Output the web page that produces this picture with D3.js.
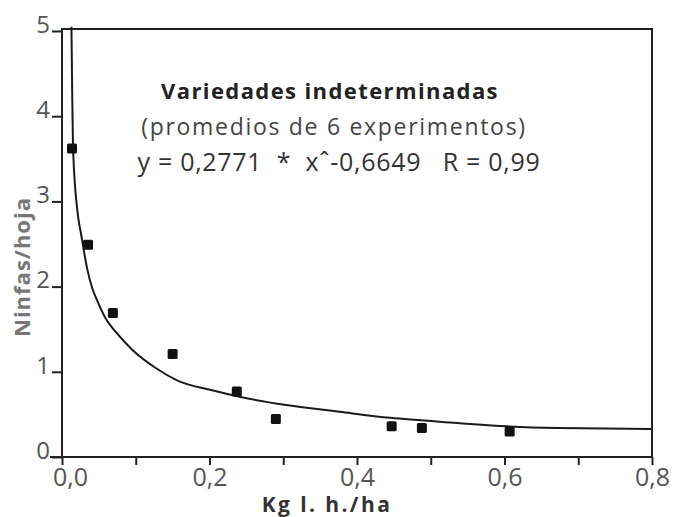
<!DOCTYPE html>
<html>
<head>
<meta charset="utf-8">
<script src="https://cdn.jsdelivr.net/npm/d3@7"></script>
<style>
	body { margin: 0; background: #fff; }
	svg { display: block; font-family: "Open Sans", "DejaVu Sans", sans-serif; }
	.eq { white-space: pre; }
</style>
</head>
<body>
<div id="chart"></div>
<script>
// measured points (dose kg/ha, nymphs per leaf)
const doses = [0.0136, 0.0353, 0.069, 0.150, 0.237, 0.290, 0.447, 0.488, 0.607];
const nymphs = [3.62, 2.49, 1.69, 1.21, 0.77, 0.445, 0.36, 0.34, 0.30];

// fitted curve as drawn in the figure
const curveX = [0.0128, 0.0138, 0.0150, 0.0217, 0.0258, 0.0339, 0.0407, 0.0475, 0.0583, 0.0746,
	0.0963, 0.126, 0.156, 0.205, 0.239, 0.304, 0.377, 0.445, 0.536, 0.603, 0.671, 0.80];
const curveY = [5.05, 4.30, 3.61, 2.83, 2.62, 2.22, 1.99, 1.84, 1.64, 1.45,
	1.25, 1.05, 0.90, 0.78, 0.71, 0.61, 0.53, 0.46, 0.40, 0.36, 0.34, 0.33];

const xTicks = [0, 0.1, 0.2, 0.3, 0.4, 0.5, 0.6, 0.7, 0.8];
const xTickLabels = ["0,0", "", "0,2", "", "0,4", "", "0,6", "", "0,8"];
const yTicks = [0, 1, 2, 3, 4, 5];
const yTickLabels = ["0", "1", "2", "3", "4", "5"];

const titleLines = [
	"Variedades indeterminadas",
	"(promedios de 6 experimentos)",
	"y = 0,2771  *  x\u02C6-0,6649   R = 0,99"
];
const xLabel = "Kg l. h./ha";
const yLabel = "Ninfas/hoja";

const width = 674, height = 517;
const margin = { top: 31, right: 22, bottom: 60, left: 62 };

const svg = d3.select("#chart")
	.append("svg")
	.attr("width", width)
	.attr("height", height);

const x = d3.scaleLinear()
	.domain([0, 0.8])
	.range([margin.left, width - margin.right]);
const y = d3.scaleLinear()
	.domain([0, 5])
	.range([height - margin.bottom, margin.top]);

// X axis
const xAxis = d3.axisBottom(x)
	.tickValues(xTicks)
	.tickSizeInner(8)
	.tickSizeOuter(0)
	.tickPadding(3)
	.tickFormat((d, i) => xTickLabels[i]);
const xg = svg.append("g")
	.attr("transform", "translate(0," + y(0) + ")")
	.call(xAxis);
xg.select(".domain").remove();
xg.selectAll("line").attr("stroke", "#222").attr("stroke-width", 2);
xg.selectAll("text")
	.attr("font-size", 25)
	.attr("fill", "#555")
	.attr("font-family", "'Open Sans', sans-serif")
	.attr("dx", (d, i) => i == 0 ? 8 : 0);

// Y axis
const yAxis = d3.axisLeft(y)
	.tickValues(yTicks)
	.tickSizeInner(10)
	.tickSizeOuter(0)
	.tickPadding(2)
	.tickFormat((d, i) => yTickLabels[i]);
const yg = svg.append("g")
	.attr("transform", "translate(" + x(0) + ",0)")
	.call(yAxis);
yg.select(".domain").remove();
yg.selectAll("line").attr("stroke", "#222").attr("stroke-width", 2);
yg.selectAll("text")
	.attr("font-size", 24)
	.attr("fill", "#555")
	.attr("font-family", "'Open Sans', sans-serif")
	.attr("dy", "0.05em");

// frame
svg.append("path")
	.attr("fill", "none")
	.attr("stroke", "#222")
	.attr("stroke-width", 2)
	.attr("d", d3.line()([
		[x(0), y(0)], [x(0), y(5) - 2], [x(0.8), y(5) - 2], [x(0.8), y(0)]
	]));
svg.append("line")
	.attr("x1", x(0) - 12)
	.attr("x2", x(0.8))
	.attr("y1", y(0))
	.attr("y2", y(0))
	.attr("stroke", "#222")
	.attr("stroke-width", 2);

// fitted curve
const curvePts = curveX.map((cx, i) => [cx, curveY[i]]);
svg.append("path")
	.datum(curvePts)
	.attr("fill", "none")
	.attr("stroke", "#1a1a1a")
	.attr("stroke-width", 2)
	.attr("d", d3.line()
		.x(d => x(d[0]))
		.y(d => y(d[1]))
		.curve(d3.curveMonotoneX));

// points
const s = 10;
svg.append("g")
	.selectAll("rect")
	.data(doses.map((d, i) => [d, nymphs[i]]))
	.join("rect")
	.attr("x", d => x(d[0]) - s / 2)
	.attr("y", d => y(d[1]) - s / 2)
	.attr("width", s)
	.attr("height", s)
	.attr("rx", 1.5)
	.attr("fill", "#111");

// titles in the plot
svg.append("text")
	.attr("x", 330)
	.attr("y", 99)
	.attr("text-anchor", "middle")
	.attr("font-size", 22)
	.attr("font-weight", "bold")
	.attr("letter-spacing", 1.4)
	.attr("fill", "#222")
	.text(titleLines[0]);
svg.append("text")
	.attr("x", 334)
	.attr("y", 135)
	.attr("text-anchor", "middle")
	.attr("font-size", 23)
	.attr("letter-spacing", 1.7)
	.attr("fill", "#444")
	.text(titleLines[1]);
svg.append("text")
	.classed("eq", true)
	.attr("x", 339)
	.attr("y", 171)
	.attr("text-anchor", "middle")
	.attr("font-size", 25)
	.attr("letter-spacing", 0.7)
	.attr("fill", "#333")
	.text(titleLines[2]);

// axis titles
svg.append("text")
	.attr("x", 327)
	.attr("y", 512)
	.attr("text-anchor", "middle")
	.attr("font-size", 21)
	.attr("font-weight", "bold")
	.attr("letter-spacing", 2.4)
	.attr("fill", "#333")
	.text(xLabel);
svg.append("text")
	.attr("transform", "translate(30,267) rotate(-90)")
	.attr("text-anchor", "middle")
	.attr("font-size", 22)
	.attr("font-weight", "bold")
	.attr("letter-spacing", 1)
	.attr("fill", "#777")
	.text(yLabel);
</script>
</body>
</html>
